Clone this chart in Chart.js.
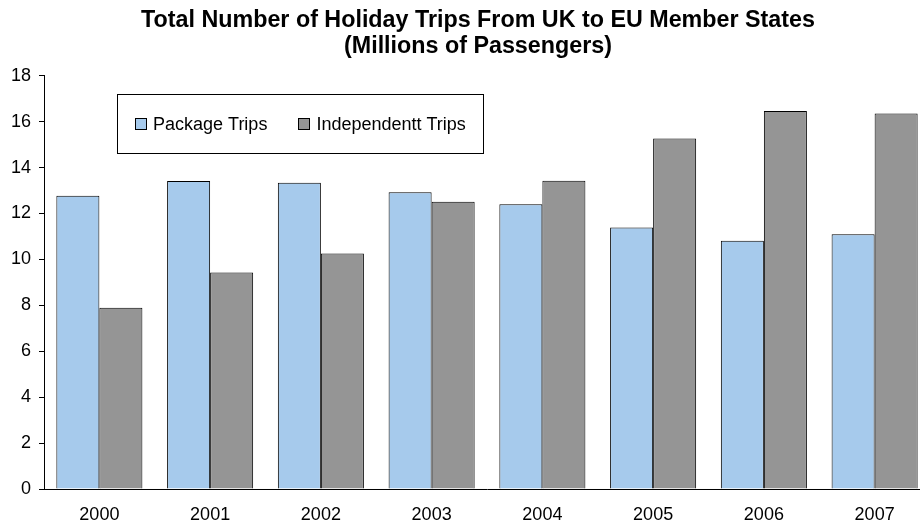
<!DOCTYPE html>
<html>
<head>
<meta charset="utf-8">
<title>Holiday Trips UK to EU</title>
<script src="https://cdn.jsdelivr.net/npm/chart.js@4.4.1/dist/chart.umd.min.js"></script>
<style>
    html, body { margin: 0; padding: 0; overflow: hidden; background: #fff; }
    #wrap { width: 932px; height: 527px; }
</style>
</head>
<body>
<div id="wrap"><canvas id="trips-chart" width="932" height="527"></canvas></div>
<script>
const years = ['2000', '2001', '2002', '2003', '2004', '2005', '2006', '2007'];
const packageTrips = [12.77, 13.41, 13.34, 12.92, 12.40, 11.39, 10.81, 11.09];
const independentTrips = [7.89, 9.43, 10.26, 12.51, 13.43, 15.26, 16.46, 16.35];
const titleLines = ['Total Number of Holiday Trips From UK to EU Member States', '(Millions of Passengers)'];

const fontFamily = '"Liberation Sans", Arial, Helvetica, sans-serif';

/* two-line bold title, centred a little left of the plot middle */
const chartTitle = {
    id: 'chartTitle',
    afterDraw(chart) {
        const ctx = chart.ctx;
        const cx = chart.chartArea.left + 434;
        ctx.save();
        ctx.font = 'bold 23.3px ' + fontFamily;
        ctx.fillStyle = '#000';
        ctx.textAlign = 'center';
        ctx.textBaseline = 'alphabetic';
        titleLines.forEach((line, i) => {
            ctx.fillText(line, cx, 26.5 + i * 26.5);
        });
        ctx.restore();
    }
};

/* legend drawn inside the plot, boxed */
const boxedLegend = {
    id: 'boxedLegend',
    afterDatasetsDraw(chart) {
        const ctx = chart.ctx;
        const area = chart.chartArea;
        const left = area.left + 73;
        const top = area.top + 18.5;
        const w = 366, h = 59;

        ctx.save();
        ctx.fillStyle = '#fff';
        ctx.fillRect(left, top, w, h);
        ctx.strokeStyle = '#000';
        ctx.lineWidth = 1;
        ctx.strokeRect(Math.round(left) + 0.5, Math.round(top) + 0.5, w, h);

        ctx.font = '18px ' + fontFamily;
        ctx.textBaseline = 'middle';
        ctx.textAlign = 'left';
        let x = left + 18;
        const cy = top + 30;
        chart.data.datasets.forEach(ds => {
            ctx.fillStyle = ds.backgroundColor;
            ctx.fillRect(x, cy - 6, 11, 11);
            ctx.strokeStyle = '#000';
            ctx.strokeRect(Math.round(x) + 0.5, Math.round(cy - 6) + 0.5, 11, 11);
            ctx.fillStyle = '#000';
            ctx.fillText(ds.label, x + 18, cy + 1);
            x += 18 + ctx.measureText(ds.label).width + 31;
        });
        ctx.restore();
    }
};

const ctx = document.getElementById('trips-chart');

new Chart(ctx, {
    type: 'bar',
    data: {
        labels: years,
        datasets: [{
            label: 'Package Trips',
            data: packageTrips,
            backgroundColor: '#A6CAEC',
            borderColor: '#000',
            borderWidth: 1
        }, {
            label: 'Independentt Trips',
            data: independentTrips,
            backgroundColor: '#959595',
            borderColor: '#000',
            borderWidth: 1
        }]
    },
    options: {
        responsive: false,
        animation: false,
        layout: {
            padding: { left: 0, right: 2, top: 75.7, bottom: 0 }
        },
        datasets: {
            bar: {
                categoryPercentage: 0.777,
                barPercentage: 1.0
            }
        },
        plugins: {
            legend: { display: false },
            tooltip: { enabled: false },
            title: { display: false }
        },
        scales: {
            x: {
                grid: { display: false, drawTicks: false },
                border: { display: true, color: '#000', width: 1 },
                ticks: {
                    color: '#000',
                    padding: 15,
                    font: { family: fontFamily, size: 18 }
                },
                afterFit(scale) { scale.height = 38; }
            },
            y: {
                min: 0,
                max: 18,
                grid: { drawOnChartArea: false, drawTicks: true, tickLength: 5, color: '#000' },
                border: { display: true, color: '#000', width: 1 },
                ticks: {
                    stepSize: 2,
                    color: '#000',
                    padding: 8,
                    font: { family: fontFamily, size: 18 }
                },
                afterFit(scale) { scale.width = 44; }
            }
        }
    },
    plugins: [chartTitle, boxedLegend]
});
</script>
</body>
</html>
